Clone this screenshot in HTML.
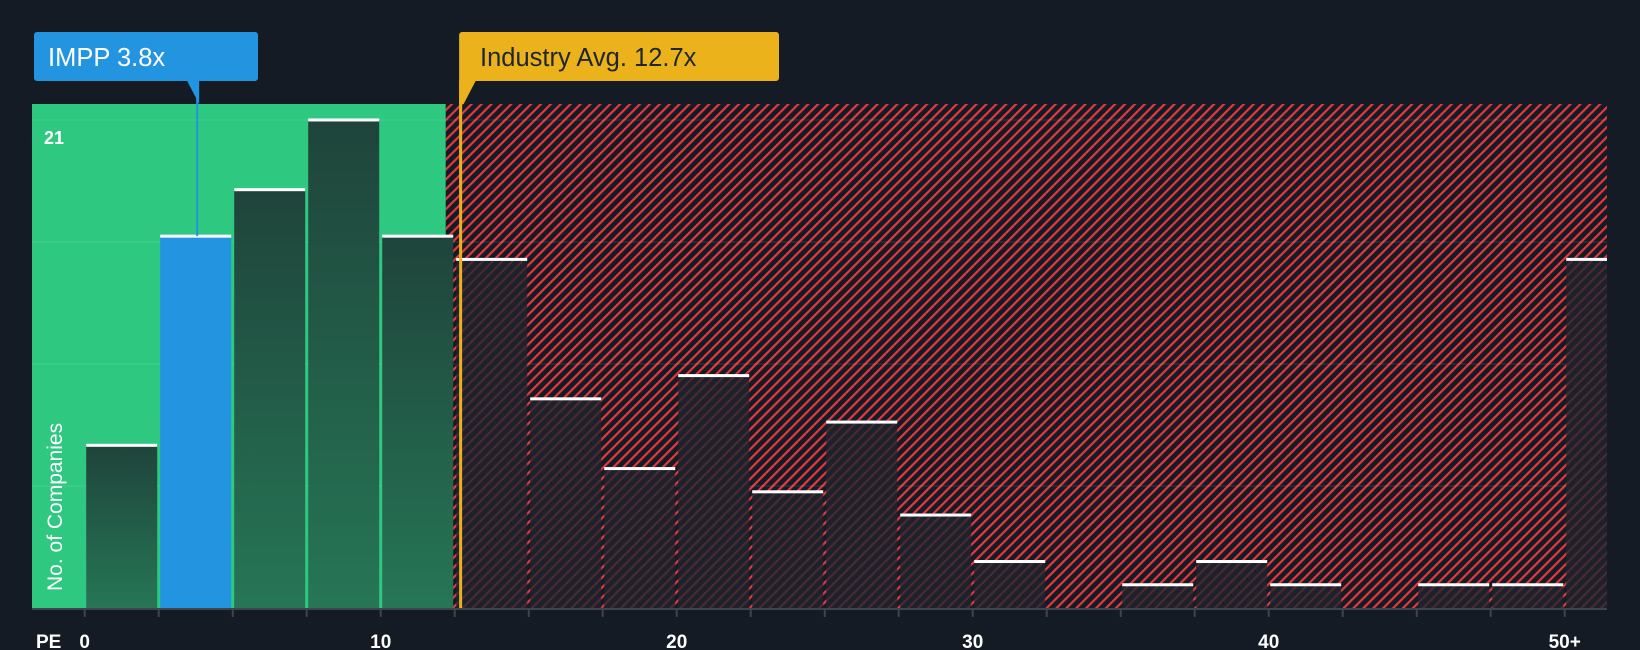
<!DOCTYPE html>
<html><head><meta charset="utf-8"><style>
html,body{margin:0;padding:0;background:#151b24;}
svg{display:block;font-family:"Liberation Sans",sans-serif;}
</style></head><body>
<svg id="chart" width="1640" height="650" viewBox="0 0 1640 650">
<defs>
<pattern id="hatch" patternUnits="userSpaceOnUse" width="7" height="7" patternTransform="rotate(45)">
<rect width="7" height="7" fill="#151b24"/>
<rect x="0" y="0" width="2.2" height="7" fill="#e3393f"/>
</pattern>
<pattern id="hatchFaint" patternUnits="userSpaceOnUse" width="7" height="7" patternTransform="rotate(45)">
<rect width="7" height="7" fill="#1d212b"/>
<rect x="0" y="0" width="2.2" height="7" fill="#4a2a30"/>
</pattern>
<linearGradient id="gbar" x1="0" y1="0" x2="0" y2="1">
<stop offset="0" stop-color="#1f443b"/><stop offset="1" stop-color="#267656"/>
</linearGradient>
</defs>
<rect x="0" y="0" width="1640" height="650" fill="#151b24"/>
<g id="regions"></g>
<g id="grid"></g>
<g id="bars"></g>
<g id="axis"></g>
<g id="markers"></g>
</svg>
<script>
const binStarts = [0,2.5,5,7.5,10,12.5,15,17.5,20,22.5,25,27.5,30,32.5,35,37.5,40,42.5,45,47.5,50];
const counts = [7,16,18,21,16,15,9,6,10,5,8,4,2,0,1,2,1,0,1,1,15];
const xTicks = [0,10,20,30,40,50];
const xTickLabels = ["0","10","20","30","40","50+"];
const yTicks = [0,5.25,10.5,15.75,21];
const companyPE = 3.8;
const industryPE = 12.7;
const fairEnd = 12.2;
const yMaxLabel = "21";

const NS = "http://www.w3.org/2000/svg";
const x0 = 84.7, pxPerUnit = 29.6, base = 608, pxPerCount = 23.24;
const plotL = 32, plotR = 1607, plotT = 104;
const xs = v => x0 + v * pxPerUnit;
const ys = v => base - v * pxPerCount;
function mk(tag, attrs, parent){const e=document.createElementNS(NS,tag);for(const k in attrs)e.setAttribute(k,attrs[k]);parent.appendChild(e);return e;}

const regions=document.getElementById('regions');
let r=mk('rect',{x:plotL,y:plotT,width:xs(fairEnd)-plotL,height:base-plotT,fill:'#2ec880'},regions);


r=mk('rect',{x:xs(fairEnd),y:plotT,width:plotR-xs(fairEnd),height:base-plotT,fill:'url(#hatch)'},regions);



const grid=document.getElementById('grid');
yTicks.forEach(t=>{if(t===0)return;const l=mk('line',{x1:plotL,x2:plotR,y1:ys(t),y2:ys(t),stroke:'rgba(255,255,255,0.12)','stroke-width':1},grid);

});

const bars=document.getElementById('bars');
const binW=2.5;
binStarts.forEach((s,i)=>{
  const c=counts[i]; if(c<=0) return;
  const left=xs(s)+1.5, right=Math.min(xs(s+binW)-1.5, plotR);
  const w=right-left, top=ys(c);
  const isCompany = companyPE>=s && companyPE<s+binW;
  const inFair = s+binW<=fairEnd+0.4;
  const fill = isCompany ? '#2394df' : (inFair ? 'url(#gbar)' : 'url(#hatchFaint)');
  const b=mk('rect',{x:left,y:top,width:w,height:base-top,fill:fill},bars);
  
  
  const cap=mk('rect',{x:left,y:top-1.5,width:w,height:3,fill:'#ffffff'},bars);
  
  
});

const axis=document.getElementById('axis');
let a=mk('line',{x1:plotL,x2:plotR,y1:base+1,y2:base+1,stroke:'#3d4450','stroke-width':2},axis);


binStarts.forEach(s=>{const t=mk('line',{x1:xs(s),x2:xs(s),y1:base,y2:base+9,stroke:'#3d4450','stroke-width':2},axis);

});
xTicks.forEach((v,i)=>{const t=mk('text',{x:xs(v),y:648,fill:'#ffffff','font-size':19,'font-weight':'bold','text-anchor':'middle'},axis);t.textContent=xTickLabels[i];

});
let pe=mk('text',{x:36,y:648,fill:'#ffffff','font-size':19,'font-weight':'bold'},axis);pe.textContent='PE';


let yl=mk('text',{x:0,y:0,fill:'#ffffff','font-size':21,transform:'translate(62,591) rotate(-90)'},axis);yl.textContent='No. of Companies';


let ym=mk('text',{x:44,y:144,fill:'#ffffff','font-size':18,'font-weight':'bold'},axis);ym.textContent=yMaxLabel;



const mkr=document.getElementById('markers');
const cx=xs(companyPE), ix=xs(industryPE);
let cl=mk('line',{x1:cx,x2:cx,y1:81,y2:ys(counts[1]),stroke:'#2394df','stroke-width':2},mkr);


let cb=mk('path',{d:`M37,32 H255 a3,3 0 0 1 3,3 V78 a3,3 0 0 1 -3,3 H${cx+2} V104 L${cx-10},81 H37 a3,3 0 0 1 -3,-3 V35 a3,3 0 0 1 3,-3 Z`,fill:'#2394df'},mkr);


let ct=mk('text',{x:48,y:66,fill:'#ffffff','font-size':25.5},mkr);ct.textContent='IMPP 3.8x';


let il=mk('line',{x1:ix,x2:ix,y1:81,y2:base,stroke:'#ebb21b','stroke-width':3},mkr);


let ib=mk('path',{d:`M${ix+1},32 H776 a3,3 0 0 1 3,3 V78 a3,3 0 0 1 -3,3 H${ix+15} L${ix+3},104 H${ix-1.5} V35 a3,3 0 0 1 3,-3 Z`,fill:'#ebb21b'},mkr);


let it=mk('text',{x:480,y:66,fill:'#1f2630','font-size':25.5},mkr);it.textContent='Industry Avg. 12.7x';


</script>
</body></html>
